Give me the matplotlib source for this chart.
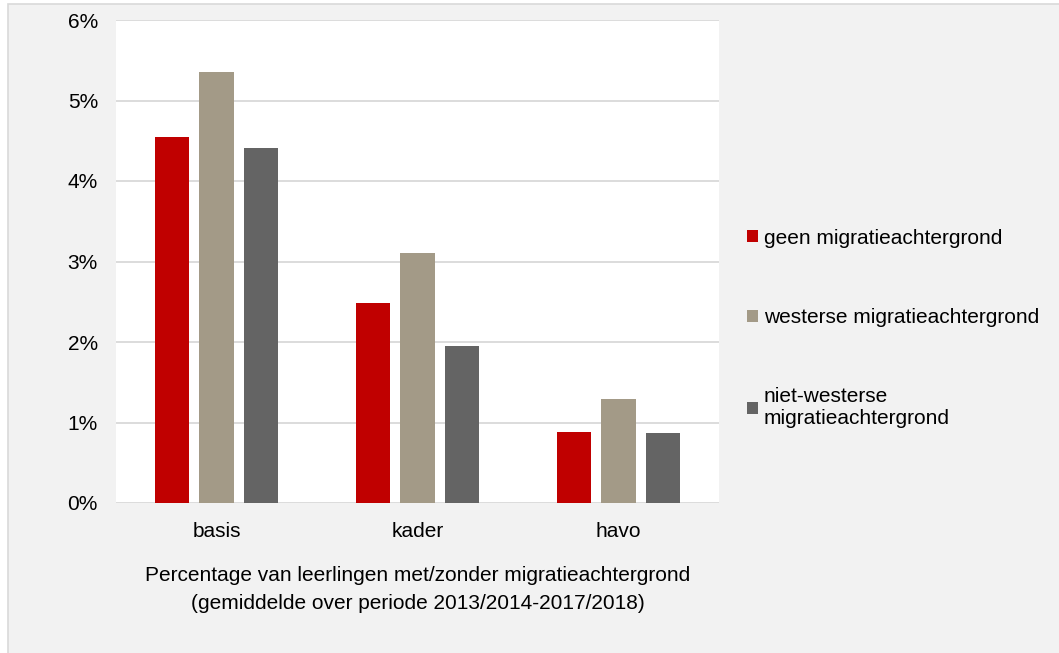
import matplotlib.pyplot as plt
import numpy as np
from matplotlib.patches import Patch, Rectangle
from matplotlib.ticker import FuncFormatter

plt.rcParams["font.family"] = ["Liberation Sans", "DejaVu Sans"]

categories = ["basis", "kader", "havo"]
series_names = [
    "geen migratieachtergrond",
    "westerse migratieachtergrond",
    "niet-westerse\nmigratieachtergrond",
]
geen = [4.55, 2.48, 0.88]
westers = [5.35, 3.11, 1.29]
niet_westers = [4.41, 1.95, 0.87]
colors = ["#c00000", "#a39a87", "#646464"]

xlabel = (
    "Percentage van leerlingen met/zonder migratieachtergrond\n"
    "(gemiddelde over periode 2013/2014-2017/2018)"
)
FS = 15

fig = plt.figure(figsize=(10.59, 6.53), dpi=100, facecolor="white")
fig.patches.append(
    Rectangle((8 / 1059, -0.01), 1.01, 1 - 4 / 653 + 0.01, transform=fig.transFigure,
              facecolor="#f2f2f2", edgecolor="#d9d9d9", linewidth=1.2, zorder=-1)
)

ax = fig.add_axes([116 / 1059, 1 - 503 / 653, 603 / 1059, 483 / 653])
ax.set_facecolor("white")

x = np.arange(len(categories))
width = 0.17
step = 0.22
for i, (values, color, name) in enumerate(zip([geen, westers, niet_westers], colors, series_names)):
    ax.bar(x + (i - 1) * step, values, width=width, color=color, label=name, zorder=3)

ax.set_xlim(-0.5, 2.5)
ax.set_ylim(0, 6)
ax.set_yticks(range(7))
ax.yaxis.set_major_formatter(FuncFormatter(lambda v, _: f"{v:.0f}%"))
ax.set_xticks(x)
ax.set_xticklabels(categories)
ax.grid(axis="y", color="#d9d9d9", linewidth=1.3, zorder=0)
ax.tick_params(axis="both", length=0, labelsize=FS, colors="black")
ax.tick_params(axis="y", pad=13)
ax.tick_params(axis="x", pad=14)
for spine in ax.spines.values():
    spine.set_visible(False)

ax.set_xlabel(xlabel, fontsize=FS, labelpad=18, linespacing=1.55)

handles = [Patch(facecolor=c, edgecolor="none") for c in colors]
fig.legend(
    handles,
    series_names,
    loc="center left",
    bbox_to_anchor=(0.688, 0.497),
    frameon=False,
    fontsize=FS,
    handlelength=0.5,
    handleheight=0.5,
    handletextpad=0.3,
    labelspacing=2.9,
)

fig.savefig("out.png", dpi=100, facecolor=fig.get_facecolor())
